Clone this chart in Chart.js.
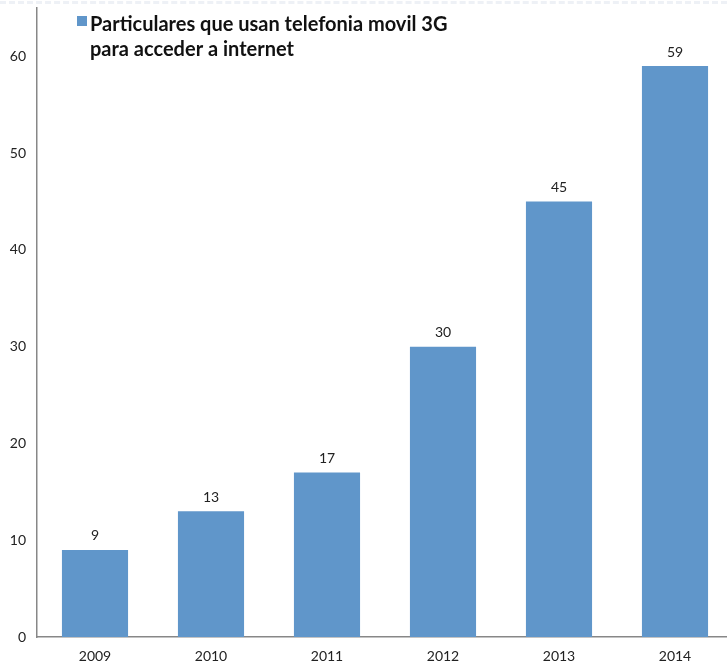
<!DOCTYPE html>
<html>
<head>
<meta charset="utf-8">
<script src="https://cdn.jsdelivr.net/npm/chart.js@4.4.1/dist/chart.umd.min.js"></script>
<style>
  html, body { margin: 0; padding: 0; background: #fff; overflow: hidden; }
  #wrap { position: relative; width: 727px; height: 666px; overflow: hidden; }
  #topline { position: absolute; left: 0; top: 1px; width: 727px; height: 0; border-top: 3px dashed #eef1f6; }
  canvas { position: absolute; left: 0; top: 0; }
</style>
</head>
<body>
<div id="wrap">
  <canvas id="c" width="740" height="666"></canvas>
  <div id="topline"></div>
</div>
<script>
const categories = ['2009', '2010', '2011', '2012', '2013', '2014'];
const values = [9, 13, 17, 30, 45, 59];
const seriesLabel = ['Particulares que usan telefonia movil 3G', 'para acceder a internet'];
const yTicks = [0, 10, 20, 30, 40, 50, 60];

const barColor = '#6096CA';
const axisColor = '#878787';
const FONT = 'Lato, "Open Sans", sans-serif';

const valueLabels = {
  id: 'valueLabels',
  afterDatasetsDraw(chart) {
    const ctx = chart.ctx;
    const meta = chart.getDatasetMeta(0);
    ctx.save();
    ctx.font = '14px ' + FONT;
    ctx.fillStyle = '#222';
    ctx.textAlign = 'center';
    ctx.textBaseline = 'bottom';
    meta.data.forEach((bar, i) => {
      ctx.fillText(String(values[i]), bar.x, bar.y - 7);
    });
    ctx.restore();
  }
};

const customLegend = {
  id: 'customLegend',
  afterDraw(chart) {
    const ctx = chart.ctx;
    ctx.save();
    ctx.fillStyle = barColor;
    ctx.fillRect(77, 16, 10, 10);
    ctx.font = 'bold 20px ' + FONT;
    ctx.fillStyle = '#111';
    ctx.textAlign = 'left';
    ctx.textBaseline = 'alphabetic';
    ctx.fillText(seriesLabel[0], 90, 31);
    ctx.fillText(seriesLabel[1], 90, 56);
    ctx.restore();
  }
};

new Chart(document.getElementById('c'), {
  type: 'bar',
  data: {
    labels: categories,
    datasets: [{
      label: seriesLabel.join(' '),
      data: values,
      backgroundColor: barColor,
      borderWidth: 0,
      categoryPercentage: 1.0,
      barPercentage: 0.57
    }]
  },
  options: {
    responsive: false,
    animation: false,
    layout: { padding: { top: 8, right: 7, left: 0, bottom: 0 } },
    plugins: {
      legend: { display: false },
      tooltip: { enabled: false },
      title: { display: false }
    },
    scales: {
      x: {
        grid: { display: false, drawTicks: false },
        border: { display: true, color: axisColor, width: 1.5 },
        ticks: { color: '#222', font: { family: FONT, size: 14 }, padding: 11, maxRotation: 0 },
        afterFit(scale) { scale.height = 29; scale.paddingLeft = 0; scale.paddingRight = 0; }
      },
      y: {
        min: 0,
        max: 65,
        grid: { display: false, drawTicks: false },
        border: { display: true, color: axisColor, width: 1.5 },
        afterBuildTicks(scale) { scale.ticks = yTicks.map(v => ({ value: v })); },
        ticks: { color: '#222', font: { family: FONT, size: 14 }, padding: 11 },
        afterFit(scale) { scale.width = 37; scale.paddingTop = 0; scale.paddingBottom = 0; }
      }
    }
  },
  plugins: [valueLabels, customLegend]
});
</script>
</body>
</html>
